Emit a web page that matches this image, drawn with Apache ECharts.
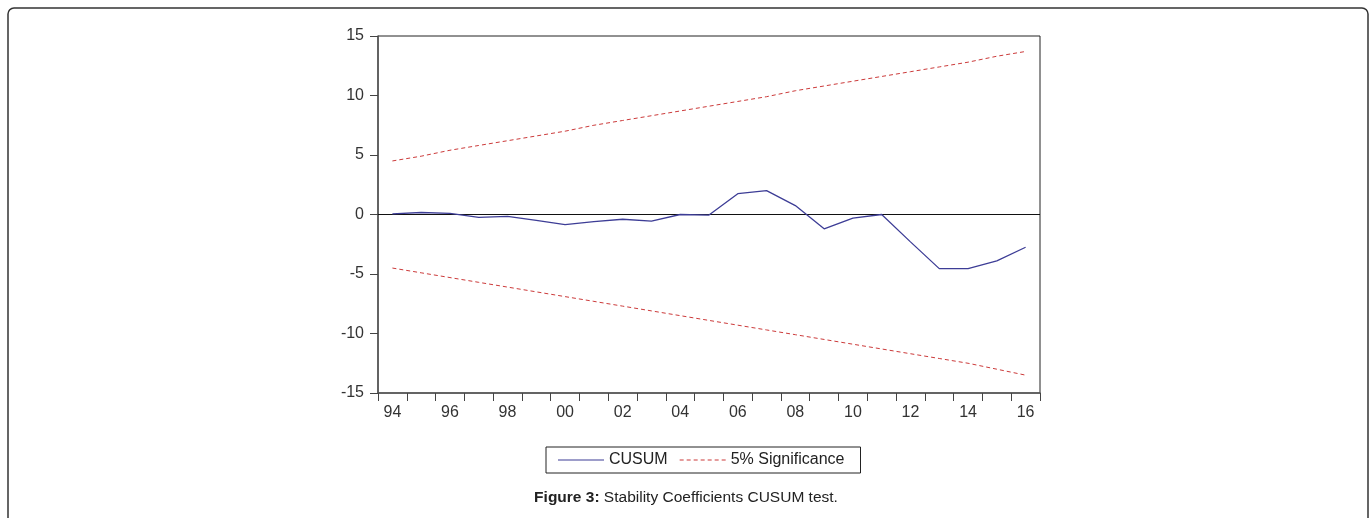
<!DOCTYPE html>
<html>
<head>
<meta charset="utf-8">
<style>
  html, body { margin: 0; padding: 0; background: #fff; }
  #chart { width: 1372px; height: 518px; }
</style>
<script src="https://cdn.jsdelivr.net/npm/echarts@6/dist/echarts.min.js"></script>
</head>
<body>
<div id="chart"></div>
<script>
// Categories (years 1994..2016), labelled with two digits
const years = ['94','95','96','97','98','99','00','01','02','03','04','05','06','07','08','09','10','11','12','13','14','15','16'];
// CUSUM statistic
const cusum = [0.05, 0.17, 0.1, -0.25, -0.15, -0.5, -0.85, -0.6, -0.4, -0.55, 0.0, -0.05, 1.75, 2.0, 0.75, -1.2, -0.3, 0.0, -2.3, -4.55, -4.55, -3.9, -2.75];
// 5% significance bounds
const upper = [4.5, 4.9, 5.4, 5.8, 6.2, 6.6, 7.0, 7.5, 7.9, 8.3, 8.7, 9.1, 9.5, 9.9, 10.4, 10.8, 11.2, 11.6, 12.0, 12.4, 12.8, 13.3, 13.7];
const lower = [-4.5, -4.9, -5.3, -5.7, -6.1, -6.5, -6.9, -7.3, -7.7, -8.1, -8.5, -8.9, -9.3, -9.7, -10.1, -10.5, -10.9, -11.3, -11.7, -12.1, -12.5, -13.0, -13.5];
const yTicks = [-15, -10, -5, 0, 5, 10, 15];
const legendNames = ['CUSUM', '5% Significance'];
const caption = ['Figure 3:', ' Stability Coefficients CUSUM test.'];

const chart = echarts.init(document.getElementById('chart'), null, { renderer: 'canvas' });
const font = 'Liberation Sans, Arial, sans-serif';
const redColor = '#cc3a3a';
const blueColor = '#3d3d96';

// legend icons: solid line and dashed line
const solidIcon = 'path://M0,0H46V1H0Z';
let dashPath = '';
for (let x = 0; x < 46; x += 7) {
  const e = Math.min(x + 4, 46);
  dashPath += 'M' + x + ',0H' + e + 'V1H' + x + 'Z';
}
const dashIcon = 'path://' + dashPath;

chart.setOption({
  animation: false,
  backgroundColor: '#ffffff',
  textStyle: { fontFamily: font },
  grid: { left: 378, right: 332, top: 36, bottom: 125, show: true, borderColor: '#222', borderWidth: 1, backgroundColor: 'transparent' },
  xAxis: {
    type: 'category',
    data: years,
    boundaryGap: true,
    axisLine: { onZero: false, lineStyle: { color: '#555', width: 1.5 } },
    axisTick: { show: true, interval: 0, length: 8, lineStyle: { color: '#444' } },
    axisLabel: { interval: 1, color: '#333', fontSize: 16, margin: 12, fontFamily: font },
    splitLine: { show: false }
  },
  yAxis: {
    type: 'value',
    min: yTicks[0], max: yTicks[yTicks.length - 1], interval: 5,
    axisLine: { show: true, lineStyle: { color: '#555', width: 1.5 } },
    axisTick: { show: true, length: 8, lineStyle: { color: '#444' } },
    axisLabel: { color: '#333', fontSize: 16, margin: 14, fontFamily: font },
    splitLine: { show: false }
  },
  legend: {
    data: [
      { name: legendNames[0], icon: solidIcon, itemStyle: { color: blueColor, borderWidth: 0 } },
      { name: legendNames[1], icon: dashIcon, itemStyle: { color: redColor, borderWidth: 0 } }
    ],
    left: 546, top: 447,
    itemWidth: 46, itemHeight: 1.3, itemGap: 12,
    padding: [5, 16, 5, 12],
    borderColor: '#222', borderWidth: 1,
    textStyle: { color: '#222', fontSize: 16, fontFamily: font, lineHeight: 16 }
  },
  series: [
    {
      name: legendNames[0], type: 'line', data: cusum,
      showSymbol: false, symbol: 'none',
      lineStyle: { color: blueColor, width: 1.3 },
      itemStyle: { color: blueColor },
      z: 5,
      markLine: {
        silent: true, symbol: 'none', label: { show: false },
        lineStyle: { color: '#111', width: 1, type: 'solid' },
        data: [{ yAxis: 0 }]
      }
    },
    {
      name: legendNames[1], type: 'line', data: upper,
      showSymbol: false, symbol: 'none',
      lineStyle: { color: redColor, width: 1, type: [4, 3] },
      itemStyle: { color: redColor }
    },
    {
      name: legendNames[1], type: 'line', data: lower,
      showSymbol: false, symbol: 'none',
      lineStyle: { color: redColor, width: 1, type: [4, 3] },
      itemStyle: { color: redColor }
    }
  ],
  graphic: [
    {
      type: 'rect', silent: true,
      shape: { x: 8, y: 8, width: 1360, height: 530, r: 6 },
      style: { fill: 'none', stroke: '#333', lineWidth: 1.5 }
    },
    {
      type: 'text', left: 'center', top: 490, silent: true,
      style: {
        text: '{b|' + caption[0] + '}' + caption[1],
        font: '15.5px ' + font, fill: '#222',
        rich: { b: { fontWeight: 'bold', fontSize: 15.5, fontFamily: font, fill: '#222' } }
      }
    }
  ]
});
</script>
</body>
</html>
